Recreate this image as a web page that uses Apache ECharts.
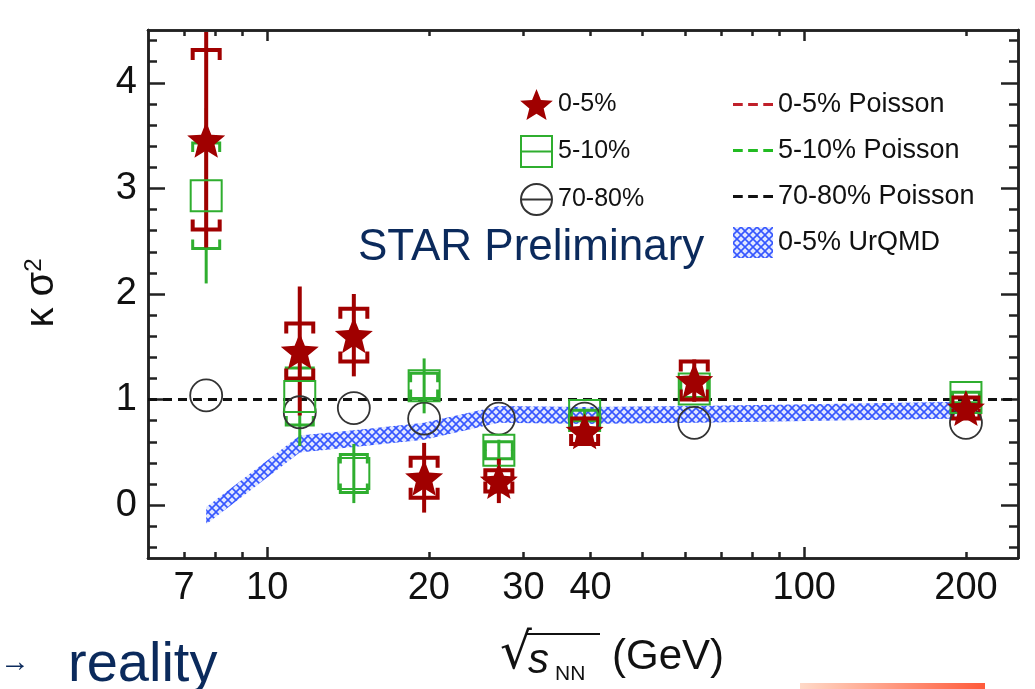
<!DOCTYPE html>
<html>
<head>
<meta charset="utf-8">
<script src="https://cdn.jsdelivr.net/npm/echarts@6/dist/echarts.min.js"></script>
<style>
  html, body { margin: 0; padding: 0; background: #fff; }
  #chart { width: 1035px; height: 689px; }
</style>
</head>
<body>
<div id="chart"></div>
<script>
// beam energies (GeV)
const energies = [7.7, 11.5, 14.5, 19.6, 27, 39, 62.4, 200];

// 0-5% central
const k05 = [3.46, 1.46, 1.61, 0.26, 0.23, 0.70, 1.18, 0.92];
const stat05 = [1.02, 0.61, 0.39, 0.33, 0.21, 0.10, 0.20, 0.10];
const sys05 = [0.85, 0.26, 0.25, 0.19, 0.10, 0.12, 0.18, 0.10];

// 5-10%
const k510 = [2.93, 1.03, 0.30, 1.13, 0.52, 0.85, 1.10, 1.02];
const stat510 = [0.83, 0.47, 0.28, 0.26, 0.10, 0.05, 0.10, 0.05];
const sys510 = [0.50, 0.27, 0.18, 0.12, 0.08, 0.05, 0.08, 0.05];

// 70-80% (errors smaller than the marker)
const k7080 = [1.04, 0.88, 0.92, 0.82, 0.82, 0.82, 0.78, 0.78];

// UrQMD 0-5% band (centre and half width)
const urqmd = [-0.10, 0.58, 0.63, 0.70, 0.86, 0.85, 0.86, 0.90];
const urqmdHalf = 0.08;

// Poisson baseline
const poissonLevel = 1;

// axis ticks
const xLabelVals = [7, 10, 20, 30, 40, 100, 200];
const xMajorTicks = [10, 100];
const xMinorTicks = [7, 8, 9, 20, 30, 40, 50, 60, 70, 80, 90, 200];
const yLabelVals = [0, 1, 2, 3, 4];
const xMinE = 6, xMaxE = 250;
const yMin = -0.5, yMax = 4.5;

const yMinorTicks = [];
for (let v = -0.4; v < 4.45; v += 0.2) {
  const r = Math.round(v * 10) / 10;
  if (Math.abs(r - Math.round(r)) > 0.01) yMinorTicks.push(r);
}

const lg = Math.log10;
const FONT = '"Liberation Sans", Arial, sans-serif';
const RED = '#a00000';
const GREEN = '#2fae2f';
const BLACK = '#222';
const BLUE = '#3556ff';

const starPath = 'path://M50,0 L62.9,32.2 L97.6,34.5 L70.9,56.8 L79.4,90.5 L50,72 L20.6,90.5 L29.1,56.8 L2.4,34.5 L37.1,32.2 Z';
const squareLinePath = 'path://M0,0H30V30H0ZM0,15H30';
const circleLinePath = 'path://M0,15A15,15 0 1,1 30,15A15,15 0 1,1 0,15ZM0,15H30';
const dashesPath = 'path://M0,0H9V3H0Z M14,0H23V3H14Z M28,0H37V3H28Z';

// crosshatch pattern for the UrQMD band
function makeHatch() {
  const c = document.createElement('canvas');
  c.width = 8; c.height = 8;
  const ctx = c.getContext('2d');
  ctx.fillStyle = 'rgba(170,185,255,0.35)';
  ctx.fillRect(0, 0, 8, 8);
  ctx.strokeStyle = BLUE;
  ctx.lineWidth = 1.6;
  ctx.beginPath();
  ctx.moveTo(0, 0); ctx.lineTo(8, 8);
  ctx.moveTo(8, 0); ctx.lineTo(0, 8);
  ctx.stroke();
  return c;
}
const hatch = { image: makeHatch(), repeat: 'repeat' };

const chartDom = document.getElementById('chart');
const myChart = echarts.init(chartDom);

function errData(vals, stat, sys) {
  return energies.map((e, i) => [lg(e), vals[i], stat[i], sys[i]]);
}

// stat error = vertical line, sys error = bracket caps
function errRender(color, lw, capW, capH) {
  return function (params, api) {
    const x = api.value(0), y = api.value(1), st = api.value(2), sy = api.value(3);
    const top = api.coord([x, y + st]);
    const bot = api.coord([x, y - st]);
    const t = api.coord([x, y + sy]);
    const b = api.coord([x, y - sy]);
    const h = capW / 2;
    return {
      type: 'group',
      children: [
        {
          type: 'line',
          shape: { x1: top[0], y1: top[1], x2: bot[0], y2: bot[1] },
          style: { stroke: color, lineWidth: lw }
        },
        {
          type: 'polyline',
          shape: { points: [[t[0] - h, t[1] + capH], [t[0] - h, t[1]], [t[0] + h, t[1]], [t[0] + h, t[1] + capH]] },
          style: { stroke: color, lineWidth: lw, fill: null }
        },
        {
          type: 'polyline',
          shape: { points: [[b[0] - h, b[1] - capH], [b[0] - h, b[1]], [b[0] + h, b[1]], [b[0] + h, b[1] - capH]] },
          style: { stroke: color, lineWidth: lw, fill: null }
        }
      ]
    };
  };
}

function bandRender(params, api) {
  if (params.dataIndex !== 0) return null;
  const upper = [], lower = [];
  for (let i = 0; i < energies.length; i++) {
    upper.push(api.coord([lg(energies[i]), urqmd[i] + urqmdHalf]));
    lower.unshift(api.coord([lg(energies[i]), urqmd[i] - urqmdHalf]));
  }
  return {
    type: 'polygon',
    shape: { points: upper.concat(lower) },
    style: { fill: hatch, stroke: null }
  };
}

function xAxisBase(position, showLabel, ticks, len) {
  return {
    type: 'value',
    position: position,
    min: lg(xMinE),
    max: lg(xMaxE),
    axisLine: { show: true, onZero: false, lineStyle: { color: BLACK, width: 2.5 } },
    axisTick: { show: true, inside: true, length: len, customValues: ticks.map(lg), lineStyle: { color: BLACK, width: 2.5 } },
    axisLabel: {
      show: showLabel,
      customValues: xLabelVals.map(lg),
      formatter: v => String(Math.round(Math.pow(10, v))),
      fontSize: 38, fontFamily: FONT, color: '#111', margin: 12
    },
    splitLine: { show: false }
  };
}

function yAxisBase(position, showLabel, ticks, len) {
  return {
    type: 'value',
    position: position,
    min: yMin,
    max: yMax,
    axisLine: { show: true, onZero: false, lineStyle: { color: BLACK, width: 2.5 } },
    axisTick: { show: true, inside: true, length: len, customValues: ticks, lineStyle: { color: BLACK, width: 2.5 } },
    axisLabel: {
      show: showLabel,
      customValues: yLabelVals,
      fontSize: 38, fontFamily: FONT, color: '#111', margin: 11
    },
    splitLine: { show: false }
  };
}

function poissonSeries(name, color) {
  return {
    name: name, type: 'line', symbol: 'none', silent: true,
    lineStyle: { color: color, width: 3, type: [9, 6] },
    itemStyle: { color: color, borderWidth: 0 },
    data: [[lg(xMinE), poissonLevel], [lg(xMaxE), poissonLevel]], z: 2
  };
}

const option = {
  animation: false,
  backgroundColor: '#fff',
  grid: { left: 148, right: 17, top: 30, bottom: 131, containLabel: false },
  xAxis: [
    xAxisBase('bottom', true, xMajorTicks, 11),
    xAxisBase('bottom', false, xMinorTicks, 6),
    xAxisBase('top', false, xMajorTicks, 11),
    xAxisBase('top', false, xMinorTicks, 6)
  ],
  yAxis: [
    yAxisBase('left', true, yLabelVals, 17),
    yAxisBase('left', false, yMinorTicks, 9),
    yAxisBase('right', false, yLabelVals, 17),
    yAxisBase('right', false, yMinorTicks, 9)
  ],
  legend: [
    {
      orient: 'vertical', left: 515, top: 84,
      itemWidth: 33, itemHeight: 31, itemGap: 15,
      textStyle: { fontSize: 25, lineHeight: 31, fontFamily: FONT, color: '#111' },
      data: [
        { name: '0-5%', icon: starPath },
        { name: '5-10%', icon: squareLinePath },
        { name: '70-80%', icon: circleLinePath }
      ]
    },
    {
      orient: 'vertical', left: 728, top: 84,
      itemWidth: 40, itemHeight: 31, itemGap: 15,
      textStyle: { fontSize: 27, lineHeight: 31, fontFamily: FONT, color: '#111' },
      data: [
        { name: '0-5% Poisson', icon: dashesPath },
        { name: '5-10% Poisson', icon: dashesPath },
        { name: '70-80% Poisson', icon: dashesPath },
        { name: '0-5% UrQMD', icon: 'rect' }
      ]
    }
  ],
  graphic: [
    {
      type: 'text', left: 358, top: 226, silent: true,
      style: { text: 'STAR Preliminary', fontSize: 44, fontFamily: FONT, fill: '#0b2a5c' }
    },
    {
      type: 'text', x: 42, y: 293, rotation: Math.PI / 2, silent: true,
      style: {
        text: '{a|κ σ}{b|2}', align: 'center', verticalAlign: 'middle',
        rich: {
          a: { fontSize: 40, fontFamily: FONT, fill: '#111' },
          b: { fontSize: 24, fontFamily: FONT, fill: '#111', verticalAlign: 'top' }
        }
      }
    },
    {
      type: 'text', x: 500, y: 630, silent: true,
      style: { text: '√', fontSize: 50, fontFamily: '"DejaVu Sans", sans-serif', fill: '#111' }
    },
    {
      type: 'line', silent: true,
      shape: { x1: 526, y1: 634, x2: 600, y2: 634 },
      style: { stroke: '#111', lineWidth: 2 }
    },
    {
      type: 'text', x: 528, y: 640, silent: true,
      style: { text: 's', fontSize: 42, fontStyle: 'italic', fontFamily: FONT, fill: '#111' }
    },
    {
      type: 'text', x: 555, y: 664, silent: true,
      style: { text: 'NN', fontSize: 21, fontFamily: FONT, fill: '#111' }
    },
    {
      type: 'text', x: 612, y: 636, silent: true,
      style: { text: '(GeV)', fontSize: 42, fontFamily: FONT, fill: '#111' }
    },
    {
      type: 'text', x: 0, y: 648, silent: true,
      style: { text: '→', fontSize: 30, fontFamily: FONT, fill: '#0b2a5c' }
    },
    {
      type: 'text', x: 68, y: 638, silent: true,
      style: { text: 'reality', fontSize: 56, fontFamily: FONT, fill: '#0b2a5c' }
    },
    {
      type: 'rect', silent: true,
      shape: { x: 800, y: 683, width: 185, height: 6 },
      style: {
        fill: new echarts.graphic.LinearGradient(0, 0, 1, 0, [
          { offset: 0, color: '#ffd9c8' }, { offset: 1, color: '#ff5a3a' }
        ])
      }
    }
  ],
  series: [
    {
      name: '0-5% UrQMD', type: 'custom', renderItem: bandRender, silent: true,
      itemStyle: { color: hatch },
      data: energies.map((e, i) => [lg(e), urqmd[i]]),
      encode: { x: 0, y: 1 }, z: 1
    },
    poissonSeries('0-5% Poisson', '#c0202a'),
    poissonSeries('5-10% Poisson', '#22bb22'),
    poissonSeries('70-80% Poisson', '#111'),
    {
      name: 'err510', type: 'custom', silent: true,
      renderItem: errRender(GREEN, 3, 27, 9),
      data: errData(k510, stat510, sys510), encode: { x: 0, y: 1 }, z: 3
    },
    {
      name: 'err05', type: 'custom', silent: true,
      renderItem: errRender(RED, 4, 27, 10),
      data: errData(k05, stat05, sys05), encode: { x: 0, y: 1 }, z: 4
    },
    {
      name: '70-80%', type: 'scatter', symbol: 'circle', symbolSize: 32,
      itemStyle: { color: 'rgba(0,0,0,0)', borderColor: '#333', borderWidth: 1.8, opacity: 1 },
      data: energies.map((e, i) => [lg(e), k7080[i]]), z: 5
    },
    {
      name: '5-10%', type: 'scatter', symbol: 'rect', symbolSize: 31,
      itemStyle: { color: 'rgba(0,0,0,0)', borderColor: GREEN, borderWidth: 2, opacity: 1 },
      data: energies.map((e, i) => [lg(e), k510[i]]), z: 5
    },
    {
      name: '0-5%', type: 'scatter', symbol: starPath, symbolSize: [38, 36],
      itemStyle: { color: RED, opacity: 1 },
      data: energies.map((e, i) => [lg(e), k05[i]]), z: 6
    }
  ]
};

myChart.setOption(option);
</script>
</body>
</html>
